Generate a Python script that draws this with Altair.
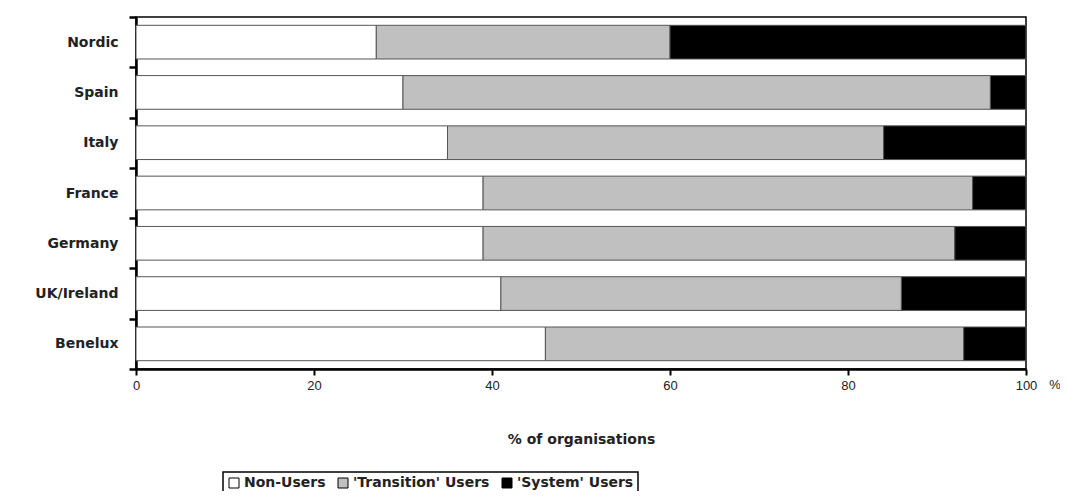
import altair as alt
import pandas as pd

countries = ["Nordic", "Spain", "Italy", "France", "Germany", "UK/Ireland", "Benelux"]
non_users = [27, 30, 35, 39, 39, 41, 46]
transition_users = [33, 66, 49, 55, 53, 45, 47]
system_users = [40, 4, 16, 6, 8, 14, 7]
series = ["Non-Users", "'Transition' Users", "'System' Users"]
colors = ["#ffffff", "#c0c0c0", "#000000"]
x_ticks = [0, 20, 40, 60, 80, 100]

rows = []
for i, c in enumerate(countries):
    for j, (s, vals) in enumerate(zip(series, [non_users, transition_users, system_users])):
        rows.append({"country": c, "series": s, "value": vals[i], "order": j})
df = pd.DataFrame(rows)

LABEL_FONT = "DejaVu Sans"

bars = alt.Chart(df).mark_bar(
    stroke="#555555", strokeWidth=1, height={"band": 0.67}
).encode(
    y=alt.Y(
        "country:N",
        sort=countries,
        scale=alt.Scale(paddingInner=0, paddingOuter=0),
        axis=alt.Axis(
            title=None,
            tickBand="extent",
            tickSize=7,
            tickWidth=2.5,
            tickColor="black",
            domainColor="black",
            domainWidth=2.5,
            labelFont=LABEL_FONT,
            labelFontWeight="bold",
            labelFontSize=14,
            labelColor="#222222",
            labelPadding=11,
        ),
    ),
    x=alt.X(
        "value:Q",
        stack="zero",
        scale=alt.Scale(domain=[0, 100], nice=False),
        axis=alt.Axis(
            title="% of organisations",
            values=x_ticks,
            tickSize=6,
            tickWidth=2,
            tickColor="black",
            domainColor="black",
            domainWidth=2.5,
            labelFont="Liberation Sans",
            labelFontSize=13,
            labelColor="#222222",
            labelPadding=4,
            labelFlush=False,
            titleFont=LABEL_FONT,
            titleFontWeight="bold",
            titleFontSize=14,
            titleColor="#222222",
            titlePadding=40,
            grid=False,
        ),
    ),
    color=alt.Color(
        "series:N",
        sort=series,
        scale=alt.Scale(domain=series, range=colors),
        legend=alt.Legend(
            title=None,
            orient="none",
            legendX=87,
            legendY=455,
            direction="horizontal",
            columns=3,
            symbolType="square",
            symbolSize=100,
            symbolStrokeColor="black",
            symbolStrokeWidth=1,
            labelFont=LABEL_FONT,
            labelFontWeight="bold",
            labelFontSize=14,
            labelColor="#222222",
            labelOffset=3,
        ),
    ),
    order=alt.Order("order:Q"),
)

pct = alt.Chart(pd.DataFrame({"t": ["%"]})).mark_text(
    font="Liberation Sans", fontSize=13, color="#222222", baseline="top", dx=29
).encode(x=alt.datum(100), y=alt.value(352 + 10), text="t:N")

chart = alt.layer(bars, pct).properties(
    width=890,
    height=352,
    padding={"left": 128, "top": 9, "right": 34, "bottom": 122},
    autosize=alt.AutoSizeParams(type="none"),
    background="white",
).configure_view(
    stroke="black", strokeWidth=1.5
).configure_legend(
    strokeColor="black", strokeWidth=1.5, padding=4, columnPadding=10
)

chart.save("out.html", embed_options={"renderer": "svg", "actions": False})
